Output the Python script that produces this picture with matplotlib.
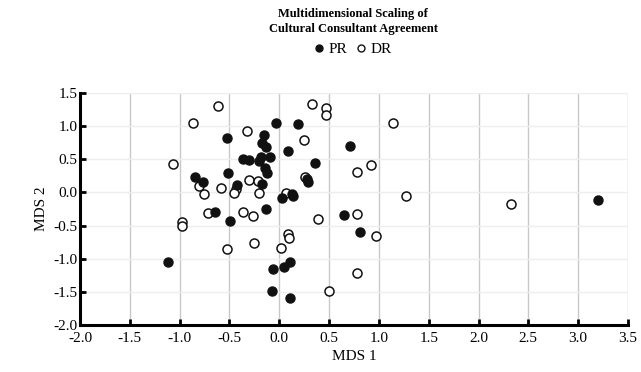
import matplotlib
matplotlib.use('Agg')
import matplotlib.pyplot as plt
from matplotlib.lines import Line2D

plt.rcParams['font.family'] = ['Liberation Serif', 'DejaVu Serif']

# PR (filled) points
pr_x = [-1.12, -0.85, -0.77, -0.65, -0.52, -0.51, -0.49, -0.42, -0.36, -0.30,
        -0.20, -0.18, -0.09, -0.17, -0.13, -0.15, -0.14, -0.12, -0.17, -0.13,
        -0.03, 0.19, 0.09, 0.36, 0.28, 0.29, 0.03, 0.13, 0.14, 0.71,
        0.65, 0.81, -0.06, 0.05, 0.11, -0.07, 0.11, 3.20]
pr_y = [-1.05, 0.24, 0.15, -0.30, 0.82, 0.29, -0.43, 0.11, 0.51, 0.49,
        0.47, 0.53, 0.54, 0.74, 0.69, 0.87, 0.37, 0.30, 0.13, -0.25,
        1.05, 1.03, 0.63, 0.45, 0.20, 0.16, -0.08, -0.02, -0.05, 0.70,
        -0.34, -0.60, -1.16, -1.13, -1.05, -1.48, -1.60, -0.12]

# DR (open) points
dr_x = [-0.61, -0.87, -0.32, -1.07, -0.81, -0.76, -0.58, -0.43, -0.45, -0.30,
        -0.21, -0.20, -0.72, -0.36, -0.26, -0.98, -0.98, 0.33, 0.47, 0.47,
        1.14, 0.25, 0.78, 0.92, 0.26, 0.07, 0.39, 0.78, 0.97, 0.09,
        0.10, -0.52, -0.25, 0.02, 0.50, 0.78, 1.27, 2.33]
dr_y = [1.31, 1.04, 0.93, 0.43, 0.09, -0.03, 0.06, 0.05, -0.01, 0.19,
        0.17, -0.01, -0.31, -0.29, -0.36, -0.45, -0.51, 1.33, 1.28, 1.17,
        1.04, 0.79, 0.31, 0.41, 0.23, -0.01, -0.40, -0.33, -0.66, -0.62,
        -0.68, -0.86, -0.77, -0.84, -1.48, -1.22, -0.06, -0.17]

x_ticks = [-2.0, -1.5, -1.0, -0.5, 0.0, 0.5, 1.0, 1.5, 2.0, 2.5, 3.0, 3.5]
y_ticks = [-2.0, -1.5, -1.0, -0.5, 0.0, 0.5, 1.0, 1.5]

fig = plt.figure(figsize=(6.41, 3.72), dpi=100)
ax = fig.add_axes([80 / 641, 47 / 372, 548 / 641, 232 / 372])

ax.set_xlim(-2.0, 3.5)
ax.set_ylim(-2.0, 1.5)
ax.set_xticks(x_ticks)
ax.set_yticks(y_ticks)
ax.set_xticklabels(['%.1f' % t for t in x_ticks])
ax.set_yticklabels(['%.1f' % t for t in y_ticks])

ax.grid(axis='x', color='#c8c8c8', linewidth=1.0)
ax.grid(axis='y', color='#eeeeee', linewidth=1.0)
ax.set_axisbelow(True)

for s in ['top', 'right']:
    ax.spines[s].set_visible(False)
for s in ['left', 'bottom']:
    ax.spines[s].set_linewidth(2.2)
    ax.spines[s].set_color('black')
ax.tick_params(direction='in', length=4, width=2, labelsize=11)
ax.tick_params(axis='x', pad=5)
ax.tick_params(axis='y', pad=2)

ax.plot(dr_x, dr_y, 'o', ms=6.5, mfc='white', mec='#111111', mew=1.1, zorder=3)
ax.plot(pr_x, pr_y, 'o', ms=6.5, mfc='#111111', mec='#111111', mew=1.0, zorder=4)

ax.set_xlabel('MDS 1', fontsize=11, labelpad=4)
ax.set_ylabel('MDS 2', fontsize=11, labelpad=4)

fig.text(0.551, 1 - 8 / 372, 'Multidimensional Scaling of\nCultural Consultant Agreement',
         ha='center', va='top', fontsize=9, fontweight='bold', linespacing=1.3)

handles = [Line2D([], [], marker='o', ls='', ms=5, mfc='#111111', mec='#111111'),
           Line2D([], [], marker='o', ls='', ms=5, mfc='white', mec='#111111', mew=1.0)]
fig.legend(handles, ['PR', 'DR'], loc='center', bbox_to_anchor=(0.551, 1 - 49 / 372),
           ncol=2, frameon=False, fontsize=11, handlelength=0.6, handletextpad=0.3,
           columnspacing=0.6, borderpad=0)

fig.savefig('out.png', dpi=100)
